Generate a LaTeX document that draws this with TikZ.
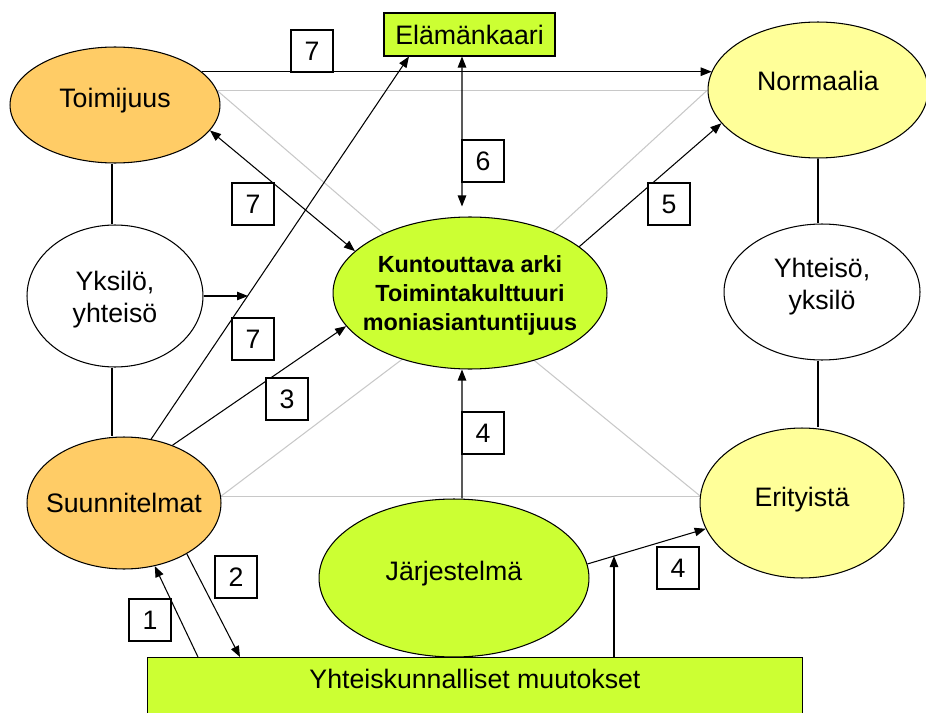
\documentclass[tikz,border=0pt]{standalone}
\usepackage{fontspec}
\setmainfont{Liberation Sans}
\usepackage{tikz}
\usetikzlibrary{positioning}
\usetikzlibrary{shapes.geometric,arrows.meta,backgrounds,calc}

\definecolor{orangefill}{HTML}{FFCC66}
\definecolor{yellowfill}{HTML}{FFFF99}
\definecolor{greenfill}{HTML}{CCFF33}
\definecolor{greyline}{HTML}{C8C8C8}

\tikzset{
	blob/.style={ellipse, draw, line width=0.6pt, inner sep=0pt},
	blobtxt/.style={font=\fontsize{15.2}{18.2}\selectfont, align=center, inner sep=0pt},
	boldtxt/.style={font=\fontsize{13.3}{16.3}\selectfont\bfseries, align=center, inner sep=0pt},
	greenbox/.style={draw, line width=0.6pt, fill=greenfill, inner sep=0pt},
	numbox/.style={draw, line width=0.6pt, fill=white, minimum size=0.84cm, inner sep=0pt,
		font=\fontsize{15.2}{18.2}\selectfont},
	link/.style={line width=0.6pt},
	faint/.style={line width=0.6pt, draw=greyline},
	arr/.style={line width=0.6pt, -{Triangle[length=2.2mm,width=1.7mm]}},
	darr/.style={line width=0.6pt, {Triangle[length=2.2mm,width=1.7mm]}-{Triangle[length=2.2mm,width=1.7mm]}},
}

\begin{document}
\begin{tikzpicture}[x=0.02cm, y=-0.02cm]

		% ---------------------
		% Proper size --- Bounding box
		\useasboundingbox (0,0) rectangle (926,713);

		% ---------------------
		% Left column
		\node[blob, fill=orangefill, minimum width=4.2cm, minimum height=2.32cm,
			label={[blobtxt, yshift=0.09cm]center:Toimijuus}] (toim) at (115,105) {};
		\node[blob, fill=white, minimum width=3.52cm, minimum height=2.84cm,
			label={[blobtxt, yshift=-0.07cm]center:{Yksilö,\\yhteisö}}] (yksi) at (115,296) {};
		\node[blob, fill=orangefill, minimum width=3.88cm, minimum height=2.64cm,
			label={[blobtxt]center:Suunnitelmat}] (suun) at (124,503) {};

		% ---------------------
		% Right column
		\node[blob, fill=yellowfill, minimum width=4.4cm, minimum height=2.72cm,
			label={[blobtxt, yshift=0.18cm]center:Normaalia}] (norm) at (818,90) {};
		\node[blob, fill=white, minimum width=3.92cm, minimum height=2.72cm,
			label={[blobtxt, yshift=0.1cm]center:{Yhteisö,\\yksilö}}] (yht) at (822,292) {};
		\node[blob, fill=yellowfill, minimum width=4.08cm, minimum height=3.0cm,
			label={[blobtxt, yshift=0.07cm]center:Erityistä}] (erit) at (802,503) {};

		% ---------------------
		% Middle
		\node[blob, fill=greenfill, minimum width=5.48cm, minimum height=3.04cm,
			label={[boldtxt, yshift=-0.05cm]center:{Kuntouttava arki\\Toimintakulttuuri\\moniasiantuntijuus}}] (kunt) at (470,293) {};
		\node[blob, fill=greenfill, minimum width=5.4cm, minimum height=3.16cm,
			label={[blobtxt, yshift=0.09cm]center:Järjestelmä}] (jarj) at (454,578) {};

		\node[greenbox, blobtxt, minimum width=3.42cm, minimum height=0.86cm] (elam) at (469.5,34.5) {Elämänkaari};
		\node[greenbox, anchor=north west, minimum width=13.1cm, minimum height=1.2cm,
			label={[blobtxt, anchor=north, yshift=-0.24cm]north:Yhteiskunnalliset muutokset}] (yhtk) at (147,657) {};

		% ---------------------
		% Grey frame behind
		\coordinate (hub) at ([yshift=-0.3cm]kunt.center);
		\begin{scope}[on background layer]
			\draw[faint] (toim.8) -- (toim.8 -| norm.west);
			\draw[faint] (suun.4) -- (suun.4 -| erit.west);
			\draw[faint] (toim.8) -- (hub);
			\draw[faint] (norm.west) -- (hub);
			\draw[faint] (suun.4) -- (hub);
			\draw[faint] (erit.176) -- (hub);
		\end{scope}

		% ---------------------
		% Column links
		\draw[link] ([xshift=-0.06cm]toim.south) -- ([xshift=-0.06cm]toim.south |- yksi.north);
		\draw[link] ([xshift=-0.06cm]toim.south |- yksi.south) -- ([xshift=-0.06cm]toim.south |- suun.north);
		\draw[link] (norm.south) -- (norm.south |- yht.north);
		\draw[link] (norm.south |- yht.south) -- (norm.south |- erit.north);

		% ---------------------
		% Arrows
		\coordinate (yksiend) at (248,296);
		\coordinate (mid4) at ($(jarj.6)!0.225!(erit.195)$);

		\draw[arr] (toim.21) -- (toim.21 -| norm.170);
		\draw[darr] (toim.-15) -- (kunt.160);
		\draw[arr] (suun.67) -- (elam.200);
		\draw[darr, shorten >=0.2cm] ([xshift=-0.15cm]elam.south) -- ([xshift=-0.16cm]kunt.north);
		\draw[arr] (kunt.23) -- (norm.199);
		\draw[arr] (yksi) -- (yksiend);
		\draw[arr] (suun.50) -- (kunt.195);
		\draw[arr] ([xshift=0.16cm]jarj.north) -- ([xshift=-0.16cm]kunt.south);
		\draw[arr] ([xshift=1.02cm]yhtk.north west) -- (suun.-64);
		\draw[arr] (suun.-39) -- ([xshift=1.86cm]yhtk.north west);
		\draw[arr] (jarj.6) -- (erit.195);
		\draw[arr] (yhtk.north -| mid4) -- (mid4);

		% ---------------------
		% Step numbers
		\node[numbox] (n7a) at (312,51) {7};
		\node[numbox] (n7b) at (253,204) {7};
		\node[numbox] (n7c) at (253,339) {7};
		\node[numbox] (n3) at (287,399) {3};
		\node[numbox] (n6) at (483,161) {6};
		\node[numbox] (n5) at (669,204) {5};
		\node[numbox] (n4a) at (483,433) {4};
		\node[numbox] (n1) at (150,620) {1};
		\node[numbox] (n2) at (236,577) {2};
		\node[numbox] (n4b) at (678,568) {4};

\end{tikzpicture}
\end{document}
